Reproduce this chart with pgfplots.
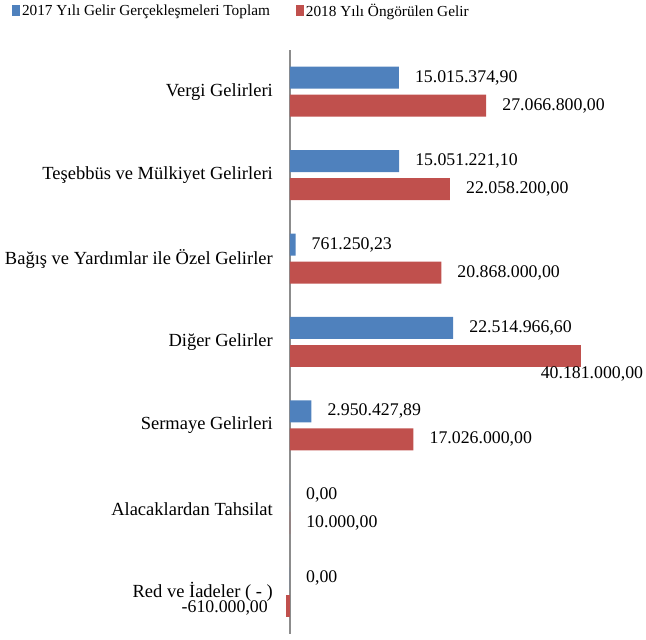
\documentclass[border=0pt]{standalone}
\usepackage{fontspec}
\setmainfont{Liberation Serif}
\usepackage{pgfplots}
\pgfplotsset{compat=1.18}

\definecolor{seri17}{HTML}{4F81BD}
\definecolor{seri18}{HTML}{C0504D}
\definecolor{eksen}{HTML}{8C8C8C}

\begin{document}
\begin{tikzpicture}
\path[use as bounding box] (-290pt,-6pt) rectangle (356pt,634pt);
\begin{axis}[
    xbar,
    scale only axis,
    width=319pt, height=584pt,
    xmin=0, xmax=44000000,
    ymin=-0.5, ymax=6.5,
    clip=false,
    axis x line=none,
    axis y line=left,
    axis line style={-, draw=eksen, line width=1.5pt},
    ytick={0,1,2,3,4,5,6},
    yticklabels={{Red ve İadeler ( - )}, {Alacaklardan Tahsilat}, {Sermaye Gelirleri},
        {Diğer Gelirler}, {Bağış ve Yardımlar ile Özel Gelirler\hspace{5pt}},
        {Teşebbüs ve Mülkiyet Gelirleri}, {Vergi Gelirleri}},
    major tick length=0pt,
    yticklabel style={font=\fontsize{18.5}{20}\selectfont, anchor=east, inner sep=0pt, xshift=-17pt},
    bar width=22pt,
    point meta=explicit symbolic,
    nodes near coords={\pgfplotspointmeta},
    nodes near coords style={font=\fontsize{17.8}{19}\selectfont, anchor=west, inner sep=0pt, xshift=16pt, black},
    legend columns=2,
    legend style={at={(axis description cs:-0.872,1.0668)}, anchor=west, draw=none, fill=none,
        font=\fontsize{15.3}{17}\selectfont, inner sep=0pt,
        /tikz/every even column/.append style={column sep=24pt}},
    legend image code/.code={\fill[#1] (-2pt,-5.5pt) rectangle (6pt,5.5pt);},
]
    % 2017 Yili Gelir Gerceklesmeleri
    \addplot[fill=seri17, draw=none, bar shift=14pt] coordinates {
        (15015374.90,6) [15.015.374,90]
        (15051221.10,5) [15.051.221,10]
        (761250.23,4) [761.250,23]
        (22514966.60,3) [22.514.966,60]
        (2950427.89,2) [2.950.427,89]
        (0,1) [0,00]
        (0,0) [0,00]
    };
    % 2018 Yili Ongorulen Gelir
    \addplot[fill=seri18, draw=none, bar shift=-14pt] coordinates {
        (27066800,6) [27.066.800,00]
        (22058200,5) [22.058.200,00]
        (20868000,4) [20.868.000,00]
        (17026000,2) [17.026.000,00]
        (10000,1) [10.000,00]
    };
    % etiketi cubugun altinda
    \addplot[fill=seri18, draw=none, bar shift=-14pt, forget plot,
        nodes near coords style={anchor=east, xshift=46pt, yshift=-18pt}] coordinates {
        (40181000,3) [40.181.000,00]
    };
    % negatif deger, etiketi solda
    \addplot[fill=seri18, draw=none, bar shift=-14pt, forget plot,
        nodes near coords style={anchor=east, xshift=-33.6pt, yshift=-2pt}] coordinates {
        (-610000,0) [-610.000,00]
    };
    \legend{2017 Yılı Gelir Gerçekleşmeleri Toplam, 2018 Yılı Öngörülen Gelir}
\end{axis}
\end{tikzpicture}
\end{document}
